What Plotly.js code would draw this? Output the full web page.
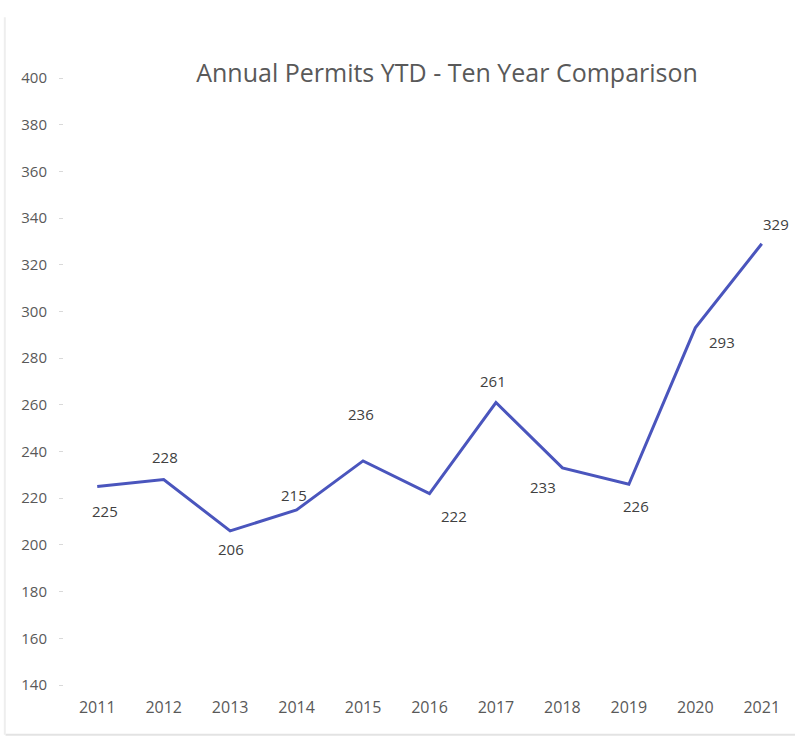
<!DOCTYPE html>
<html>
<head>
<meta charset="utf-8">
<script src="https://cdn.plot.ly/plotly-3.0.1.min.js"></script>
<style>
  html, body { margin: 0; padding: 0; background: #ffffff; }
  #chart { width: 795px; height: 740px; }
</style>
</head>
<body>
<div id="chart"></div>
<script>
// Data
const years = ['2011','2012','2013','2014','2015','2016','2017','2018','2019','2020','2021'];
const permits = [225, 228, 206, 215, 236, 222, 261, 233, 226, 293, 329];
const yTickValues = [140,160,180,200,220,240,260,280,300,320,340,360,380,400];

// Label offsets (pixels) relative to each point, style only
const labelDx = [8, 1, 1, -3, -2, 24, -3, -19, 7, 27, 14];
const labelDy = [-24, 23, -18, 15, 47, -22, 22, -19, -22, -14, 20];

const FONT = '"Open Sans", sans-serif';

const trace = {
  x: years,
  y: permits,
  type: 'scatter',
  mode: 'lines',
  line: { color: '#4a55bd', width: 3 },
  hoverinfo: 'skip'
};

const annotations = years.map((yr, i) => ({
  x: i, y: permits[i], xref: 'x', yref: 'y',
  text: String(permits[i]),
  showarrow: false,
  xshift: labelDx[i], yshift: labelDy[i],
  xanchor: 'center', yanchor: 'middle',
  font: { family: FONT, size: 15, color: '#404040' }
}));

const layout = {
  width: 795, height: 740,
  margin: { l: 64, r: 0, t: 78, b: 55 },
  paper_bgcolor: '#ffffff',
  plot_bgcolor: '#ffffff',
  showlegend: false,
  title: {
    text: 'Annual Permits YTD - Ten Year Comparison',
    font: { family: FONT, size: 25, color: '#595959' },
    x: 0.524, xref: 'paper', xanchor: 'center',
    y: 0.901, yref: 'container', yanchor: 'middle'
  },
  xaxis: {
    type: 'category',
    range: [-0.5, 10.5],
    showgrid: false, zeroline: false, showline: false,
    ticks: '', ticklabelstandoff: 11,
    tickfont: { family: FONT, size: 16, color: '#595959' },
    fixedrange: true
  },
  yaxis: {
    range: [140, 400],
    tickvals: yTickValues,
    showgrid: false, zeroline: false, showline: false,
    ticks: 'outside', ticklen: 4, tickcolor: '#d9d9d9', tickwidth: 1,
    ticklabelstandoff: 9,
    tickfont: { family: FONT, size: 15, color: '#595959' },
    fixedrange: true
  },
  annotations: annotations,
  shapes: [
    { type: 'line', xref: 'paper', yref: 'paper', x0: -0.08, x1: 1, y0: -0.082, y1: -0.082,
      line: { color: '#e3e3e3', width: 2 } },
    { type: 'line', xref: 'paper', yref: 'paper', x0: -0.081, x1: -0.081, y0: -0.082, y1: 1.1,
      line: { color: '#eeeeee', width: 2 } }
  ]
};

Plotly.newPlot('chart', [trace], layout, { displayModeBar: false, staticPlot: true });
</script>
</body>
</html>
